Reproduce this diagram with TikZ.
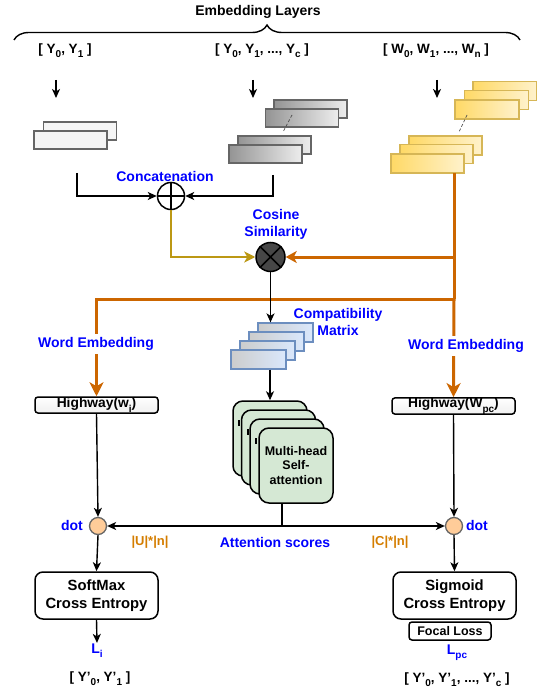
\documentclass[tikz,border=0pt]{standalone}
\usepackage{fontspec}
\setmainfont{Liberation Sans}
\usetikzlibrary{arrows.meta,decorations.pathreplacing,calc}
\definecolor{lblue}{RGB}{0,0,255}
\definecolor{orng}{RGB}{204,102,0}
\definecolor{oliveln}{RGB}{188,152,20}
\definecolor{peach}{RGB}{255,204,153}
\definecolor{grn}{RGB}{213,232,212}
\definecolor{ybord}{RGB}{214,182,86}
\definecolor{yl}{RGB}{255,217,102}
\definecolor{yr}{RGB}{255,242,204}
\definecolor{bbord}{RGB}{108,142,191}
\definecolor{bl}{RGB}{204,204,204}
\definecolor{br}{RGB}{218,232,252}
\definecolor{gbord}{RGB}{102,102,102}
\newcommand\mysb[1]{\raisebox{-0.3em}{\fontsize{10}{10}\selectfont #1}}
\begin{document}
\begin{tikzpicture}[x=1pt,y=-1pt,
  lbl/.style={font=\bfseries\fontsize{14}{17}\selectfont, text=lblue, align=center, inner sep=1pt},
  inlbl/.style={font=\bfseries\fontsize{13.5}{16}\selectfont, inner sep=1pt},
  olbl/.style={font=\bfseries\fontsize{13}{16}\selectfont, text=orng!85!yellow, inner sep=1pt},
  arr/.style={line width=1.4pt, -{Stealth[length=9pt,width=8pt,inset=2.5pt]}},
  oline/.style={line width=3pt, draw=orng},
  oarr/.style={line width=3pt, draw=orng, -{Stealth[length=14pt,width=14pt,inset=4pt]}},
  wlay/.style={draw=gbord, fill=black!4, line width=1.3pt, minimum width=73pt, minimum height=18pt, inner sep=0pt},
  glay/.style={draw=gbord, left color=black!42, right color=black!7, line width=1.3pt, minimum width=73pt, minimum height=18pt, inner sep=0pt},
  ylay/.style={draw=ybord, left color=yl, right color=yr, line width=1.3pt, minimum width=#1, minimum height=19pt, inner sep=0pt},
  clay/.style={draw=bbord, left color=bl, right color=br, line width=1.3pt, minimum width=55pt, minimum height=19pt, inner sep=0pt},
  mh/.style={draw=black, fill=grn, line width=1.5pt, rounded corners=10pt, minimum width=74pt, minimum height=75pt, inner sep=0pt,
    font=\bfseries\fontsize{12.5}{14.5}\selectfont, align=center},
  hwbox/.style={draw=black, top color=white, bottom color=black!6, line width=1.5pt, rounded corners=3pt, minimum width=123pt, minimum height=16pt, inner sep=0pt,
    font=\bfseries\fontsize{13.8}{15}\selectfont},
  lossbox/.style={draw=black, fill=white, line width=1.5pt, rounded corners=8pt, minimum width=123pt, minimum height=47pt, inner sep=0pt,
    font=\bfseries\fontsize{14.8}{18}\selectfont, align=center},
  dotn/.style={circle, draw=gbord, fill=peach, line width=1.3pt, minimum size=17pt, inner sep=0pt},
  dotline/.style={densely dashed, line width=0.7pt, draw=black!70},
  frag/.style={line width=1.6pt, draw=black}
]
\useasboundingbox (0,0) rectangle (537,692);

% title and brace
\node[font=\bfseries\fontsize{14}{16}\selectfont] (title) at (258,12) {Embedding Layers};
\draw[line width=1.4pt, decorate, decoration={brace, amplitude=15pt}] (14,40) -- (520,40);

% input labels
\node[inlbl] (in1) at (65,51) {[ Y\mysb{0}, Y\mysb{1} ]};
\node[inlbl] (in2) at (262,51) {[ Y\mysb{0}, Y\mysb{1}, ..., Y\mysb{c} ]};
\node[inlbl] (in3) at (436,51) {[ W\mysb{0}, W\mysb{1}, ..., W\mysb{n} ]};
\coordinate (a1s) at (56,80); \coordinate (a1e) at (56,98);
\coordinate (a2s) at (253,80); \coordinate (a2e) at (253,98);
\coordinate (a3s) at (437,80); \coordinate (a3e) at (437,98);
\draw[arr] (a1s) -- (a1e);
\draw[arr] (a2s) -- (a2e);
\draw[arr] (a3s) -- (a3e);

% left stack
\node[wlay] (L1b) at (80,131) {};
\node[wlay] (L1f) at (70.5,140) {};

% middle gray stacks
\node[glay] (G4) at (310.5,109) {};
\node[glay] (G3) at (302,118) {};
\node[glay] (G2) at (274.5,145) {};
\node[glay] (G1) at (265.5,154) {};
\draw[dotline] (292,115) -- (283,132);

% yellow stacks
\node[ylay=64pt] (Y6) at (505,91) {};
\node[ylay=64pt] (Y5) at (496.5,100) {};
\node[ylay=64pt] (Y4) at (487,109.5) {};
\node[ylay=73pt] (Y3) at (445.5,145.5) {};
\node[ylay=73pt] (Y2) at (436.5,154) {};
\node[ylay=73pt] (Y1) at (427.5,163.5) {};
\draw[dotline] (467,115) -- (459,132);

% concatenation
\node[circle, draw=black, fill=white, line width=1.5pt, minimum size=27pt, inner sep=0pt] (cat) at (171,196) {};
\draw[line width=1.5pt] (cat.north) -- (cat.south) (cat.west) -- (cat.east);
\node[lbl] (catl) at (165,176) {Concatenation};
\coordinate (lc1) at (77,173);
\coordinate (lc2) at (273,175);
\draw[arr] (lc1) |- (cat.west);
\draw[arr] (lc2) |- (cat.east);

% cosine similarity
\node[circle, draw=black, fill=black!72, line width=1.5pt, minimum size=29pt, inner sep=0pt] (cos) at (270.5,257) {};
\draw[line width=1.5pt] (cos.north west) -- (cos.south east) (cos.north east) -- (cos.south west);
\node[lbl] (cosl) at (276,224.5) {Cosine\\Similarity};
\draw[line width=2.3pt, draw=oliveln, -{Stealth[length=11pt,width=11pt,inset=3pt]}] (cat.south) |- (cos.west);

% orange connectors
\coordinate (ytop) at (454,173);
\coordinate (j1) at (454,257);
\coordinate (j2) at (454,299);
\draw[oline] (ytop) -- (j2);
\draw[line width=3pt, draw=orng, -{Stealth[length=11pt,width=12pt,inset=3pt]}] (j1) -- (cos.east);

% highway boxes
\node[hwbox] (hw1) at (96.5,405) {Highway(w\mysb{i})};
\node[hwbox] (hw2) at (453.5,406) {Highway(W\mysb{pc})};
\draw[oarr] (j2) -| (hw1.north);
\draw[oarr] (j2) -- (hw2.north);
\node[lbl, fill=white, inner ysep=3pt] (we1) at (96,344) {Word Embedding};
\node[lbl, fill=white, inner ysep=3pt] (we2) at (466,346) {Word Embedding};

% compatibility matrix
\node[clay] (C4) at (285.5,332.5) {};
\node[clay] (C3) at (276.5,341.5) {};
\node[clay] (C2) at (267.5,350.5) {};
\node[clay] (C1) at (258.5,359.5) {};
\node[lbl] (cml) at (338,321.5) {Compatibility\\Matrix};
\draw[arr] (cos.south) -- (cos.south |- C4.north);

% multi-head self-attention
\node[mh] (M1) at (270,438.5) {};
\draw[frag] ([xshift=7pt,yshift=-20pt]M1.north west) -- ++(0,6);
\node[mh] (M2) at (278.5,447.5) {};
\draw[frag] ([xshift=7pt,yshift=-20pt]M2.north west) -- ++(0,6);
\node[mh] (M3) at (287,456.5) {};
\draw[frag] ([xshift=7pt,yshift=-20pt]M3.north west) -- ++(0,6);
\node[mh] (M4) at (296,465.5) {Multi-head\\Self-\\attention};
\draw[arr] (C1.south -| M1.north) -- (M1.north);

% dots
\node[dotn] (dotL) at (98,526) {};
\node[dotn] (dotR) at (454,526) {};
\node[lbl] (dotLl) at (72,525) {dot};
\node[lbl] (dotRl) at (477,525) {dot};
\coordinate (ms) at ([xshift=-14pt]M4.south);
\draw[arr] (ms) |- (dotL.east);
\draw[arr] (ms) |- (dotR.west);
\draw[arr] (hw1.south) -- (dotL.north);
\draw[arr] (hw2.south) -- (dotR.north);
\node[olbl] (uln) at (150,542) {|U|*|n|};
\node[olbl] (cln) at (390,542) {|C|*|n|};
\node[lbl] (atts) at (275,542) {Attention scores};

% losses
\node[lossbox] (soft) at (96.5,595.5) {SoftMax\\Cross Entropy};
\node[lossbox] (sig) at (454.5,595.5) {Sigmoid\\Cross Entropy};
\node[draw=black, fill=white, line width=1.5pt, rounded corners=3pt, minimum width=82pt, minimum height=18pt, inner sep=0pt,
  font=\bfseries\fontsize{12.5}{14}\selectfont] (focal) at (450,631) {Focal Loss};
\draw[arr] (dotL.south) -- (soft.north);
\draw[arr] (dotR.south) -- (sig.north);
\node[lbl] (li) at (97,651) {L\mysb{i}};
\node[lbl] (lpc) at (457,653) {L\mysb{pc}};
\draw[arr] (soft.south) -- (li.north);
\node[inlbl] (out1) at (100,679) {[ Y'\mysb{0}, Y'\mysb{1} ]};
\node[inlbl] (out2) at (457,680) {[ Y'\mysb{0}, Y'\mysb{1}, ..., Y'\mysb{c} ]};
\end{tikzpicture}
\end{document}
